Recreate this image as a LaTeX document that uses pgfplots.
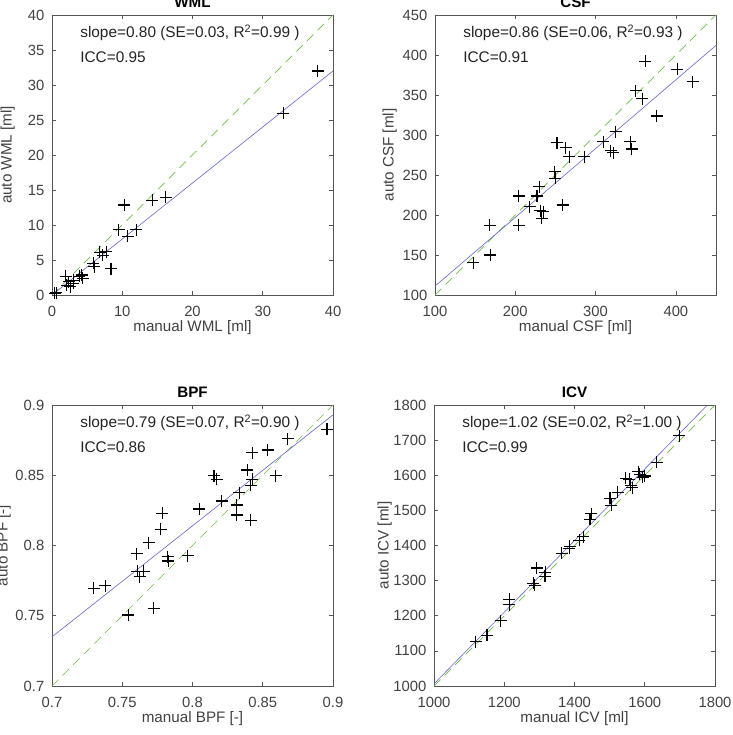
\documentclass[border=0pt]{standalone}
\usepackage{fontspec}
\setmainfont{Liberation Sans}
\usepackage{pgfplots}
\pgfplotsset{compat=1.18}

\definecolor{fitblue}{RGB}{100,100,205}
\definecolor{idgreen}{RGB}{110,190,70}
\definecolor{axgray}{RGB}{85,85,85}
\definecolor{labgray}{RGB}{65,65,65}
\definecolor{txtgray}{RGB}{35,35,35}

\newcommand{\tickfont}{\fontsize{14.8}{17}\selectfont}
\newcommand{\labfont}{\fontsize{15.2}{18}\selectfont}
\newcommand{\txtfont}{\fontsize{15.4}{18}\selectfont}

\pgfplotsset{
  panel/.style={
    scale only axis, width=281pt,
    axis line style={axgray, line width=0.6pt},
    every tick/.style={axgray, line width=0.6pt},
    major tick length=4pt,
    tick align=inside,
    xtick pos=both, ytick pos=both,
    scaled ticks=false,
    /pgf/number format/assume math mode=true,
    /pgf/number format/1000 sep={},
    xticklabel style={font=\tickfont, text=labgray, anchor=north, inner sep=0pt, yshift=-11pt},
    yticklabel style={font=\tickfont, text=labgray, anchor=east, inner sep=0pt, xshift=-7.5pt},
    xlabel style={font=\labfont, text=labgray, at={(rel axis cs:0.5,0)}, anchor=north, inner sep=0pt, yshift=-25pt},
    title style={font=\labfont\bfseries, text=black, at={(rel axis cs:0.5,1)}, anchor=south, inner sep=0pt, yshift=1pt},
    fit/.style={fitblue, line width=0.6pt, no marks},
    ident/.style={idgreen, line width=0.7pt, dash pattern=on 9pt off 6pt, no marks},
    pts/.style={only marks, mark=+, mark size=6pt, mark options={line width=1.1pt, black}},
  },
  ylab/.style={ylabel style={font=\labfont, text=labgray, at={([xshift=-#1]rel axis cs:0,0.5)}, anchor=south, inner sep=0pt}},
}

\newcommand{\stats}[2]{%
  \node[anchor=west, inner sep=0pt, font=\txtfont, text=txtgray] at (rel axis cs:0.1,0.936) {#1};
  \node[anchor=west, inner sep=0pt, font=\txtfont, text=txtgray] at (rel axis cs:0.1,0.85) {#2};
}

\begin{document}
\begin{tikzpicture}

% ---------------- WML ----------------
\begin{axis}[panel, ylab=37pt, height=280pt,
  at={(52pt,440pt)}, anchor=south west,
  xmin=0, xmax=40, ymin=0, ymax=40,
  xtick={0,10,...,40}, ytick={0,5,...,40},
  title={WML}, xlabel={manual WML [ml]}, ylabel={auto WML [ml]}]
\addplot[ident] coordinates {(0,0) (40,40)};
\addplot[fit] coordinates {(0,0) (40,32)};
\addplot[pts] coordinates {
 (37.8,32.0) (32.9,25.95) (16.2,13.95) (14.3,13.5) (10.3,12.86)
 (12.0,9.3) (9.5,9.3) (10.8,8.4) (7.75,6.2) (6.8,6.1) (7.2,5.7)
 (5.85,4.5) (6.0,4.05) (8.4,3.76) (4.2,2.86) (4.4,2.4) (3.0,2.1)
 (1.95,2.7) (2.1,1.4) (2.6,1.2) (3.0,1.7) (2.4,1.9) (3.9,2.7)
 (0.4,0.24) (0.6,0.33)
};
\stats{slope=0.80 (SE=0.03, R\textsuperscript{2}=0.99 )}{ICC=0.95}
\end{axis}

% ---------------- CSF ----------------
\begin{axis}[panel, ylab=38pt, height=280pt,
  at={(435pt,440pt)}, anchor=south west,
  xmin=100, xmax=450, ymin=100, ymax=450,
  xtick={100,200,300,400}, ytick={100,150,...,450},
  title={CSF}, xlabel={manual CSF [ml]}, ylabel={auto CSF [ml]}]
\addplot[ident] coordinates {(100,100) (450,450)};
\addplot[fit] coordinates {(100,111) (450,412)};
\addplot[pts] coordinates {
 (147.9,140.4) (167.9,187.1) (168.8,150) (204,223.8) (204,187.1)
 (230,235.4) (227,223.8) (218,210.4) (231,205.4) (235,204)
 (233,196) (259,212.5) (249,254) (250,246) (252,290.4)
 (263,284) (267,273) (286,273) (309.6,291.7) (325,304)
 (319,280.4) (322,278) (343,291.7) (345,282.5) (350,355.4)
 (358,345.4) (362,392) (376,323.8) (402,382) (421,366.7)
};
\stats{slope=0.86 (SE=0.06, R\textsuperscript{2}=0.93 )}{ICC=0.91}
\end{axis}

% ---------------- BPF ----------------
\begin{axis}[panel, ylab=41pt, height=281pt,
  at={(52pt,49pt)}, anchor=south west,
  xmin=0.7, xmax=0.9, ymin=0.7, ymax=0.9,
  xtick={0.7,0.75,0.8,0.85,0.9}, ytick={0.7,0.75,0.8,0.85,0.9},
  xticklabels={0.7,0.75,0.8,0.85,0.9}, yticklabels={0.7,0.75,0.8,0.85,0.9},
  title={BPF}, xlabel={manual BPF [-]}, ylabel={auto BPF [-]}]
\addplot[ident] coordinates {(0.7,0.7) (0.9,0.9)};
\addplot[fit] coordinates {(0.7,0.735) (0.9,0.893)};
\addplot[pts] coordinates {
 (0.8957,0.8827) (0.8677,0.876) (0.8536,0.868) (0.8424,0.866) (0.8391,0.8537)
 (0.8593,0.8495) (0.8153,0.8495) (0.8172,0.847) (0.8424,0.847) (0.8415,0.843)
 (0.8334,0.8376) (0.8208,0.8317) (0.8315,0.8288) (0.8315,0.8217) (0.8415,0.8181)
 (0.8049,0.826) (0.7785,0.8229) (0.7773,0.8115) (0.769,0.802) (0.7602,0.794)
 (0.7606,0.7818) (0.7654,0.7818) (0.7625,0.7778) (0.7823,0.792) (0.7827,0.789)
 (0.7966,0.7928) (0.7297,0.7695) (0.738,0.7714) (0.7725,0.7553) (0.7542,0.7505)
};
\stats{slope=0.79 (SE=0.07, R\textsuperscript{2}=0.90 )}{ICC=0.86}
\end{axis}

% ---------------- ICV ----------------
\begin{axis}[panel, ylab=42pt, height=281pt,
  at={(434pt,49pt)}, anchor=south west,
  xmin=1000, xmax=1800, ymin=1000, ymax=1800,
  xtick={1000,1200,...,1800}, ytick={1000,1100,...,1800},
  title={ICV}, xlabel={manual ICV [ml]}, ylabel={auto ICV [ml]}]
\addplot[ident] coordinates {(1000,1000) (1800,1800)};
\addplot[fit] coordinates {(1000,1006) (1800,1822)};
\addplot[pts] coordinates {
 (1118.8,1126) (1151,1145) (1190,1186) (1214,1247) (1214,1232)
 (1282,1292) (1287,1287) (1293,1336) (1317,1323.5) (1316,1313)
 (1364,1378) (1387,1398) (1385,1392) (1413,1415.5) (1425,1425)
 (1448,1491) (1444,1475) (1501,1534) (1505,1515) (1523,1551)
 (1546,1591) (1556,1589) (1560,1572) (1564,1565) (1581,1610)
 (1586,1603) (1600,1598) (1594,1594) (1634,1637) (1698,1712)
};
\stats{slope=1.02 (SE=0.02, R\textsuperscript{2}=1.00 )}{ICC=0.99}
\end{axis}

\pgfresetboundingbox
\useasboundingbox (0pt,0pt) rectangle (732pt,735pt);
\end{tikzpicture}
\end{document}
